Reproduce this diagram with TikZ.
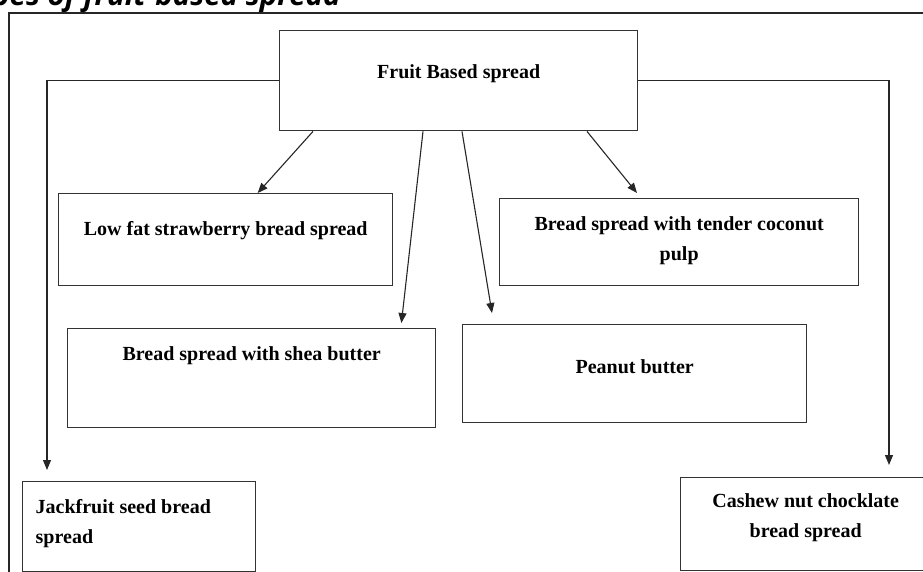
\documentclass[tikz,border=0pt]{standalone}
\usepackage{fontspec}
\setmainfont{Liberation Serif}
\newfontfamily\figcapfont{Open Sans}
\usetikzlibrary{arrows.meta}
\definecolor{boxline}{HTML}{333333}
\tikzset{spreadbox/.style={draw=boxline,line width=1.4pt,inner sep=0pt,anchor=north west,
    font=\bfseries\fontsize{20}{30}\selectfont},
  feedarrow/.style={-{Triangle[length=10pt,width=8pt]},draw=black!85,line width=1.1pt},
  framerule/.style={draw=black!85,line width=1.4pt},
  figcaption/.style={font=\figcapfont\bfseries\itshape\fontsize{29.5}{30}\selectfont,inner sep=0pt,anchor=base east}}

\begin{document}
\begin{tikzpicture}[x=1pt,y=-1pt]
\useasboundingbox (0,0) rectangle (923,572);
\clip (0,0) rectangle (923,572);
\node[figcaption] (caption) at (341,6) {Types of fruit-based spread};
\draw[framerule] (9,600) -- (9,13) -- (940,13);
\node[spreadbox,minimum width=358pt,text height=48pt,text depth=52pt] (fruit) at (279,30) {Fruit Based spread};
\node[spreadbox,minimum width=334pt,text height=42pt,text depth=50pt] (lowfat) at (58,193) {Low fat strawberry bread spread};
\node[spreadbox,minimum width=359pt,text height=62pt,text depth=25pt,align=center] (coconut) at (499,198) {Bread spread with tender coconut\\pulp};
\node[spreadbox,minimum width=368pt,text height=32pt,text depth=67pt] (shea) at (67,328) {Bread spread with shea butter};
\node[spreadbox,minimum width=344pt,text height=49pt,text depth=49pt] (peanut) at (462,324) {Peanut butter};
\node[spreadbox,inner xsep=13pt,text width=207pt,text height=32pt,text depth=58pt,align=flush left] (jack) at (22,481) {Jackfruit seed bread\\spread};
\node[spreadbox,minimum width=250pt,text height=60pt,text depth=33pt,align=center] (cashew) at (680,477) {Cashew nut chocklate\\bread spread};
\draw[feedarrow,shorten >=11pt] (fruit.west) -| ([xshift=25pt]jack.north west);
\draw[feedarrow,shorten >=12pt] (fruit.east) -| ([xshift=209pt]cashew.north west);
\draw[feedarrow] ([xshift=34pt]fruit.south west) -- ([xshift=32pt]lowfat.north);
\draw[feedarrow] ([xshift=144pt]fruit.south west) -- ([xshift=-35pt,yshift=5pt]shea.north east);
\draw[feedarrow] ([xshift=183pt]fruit.south west) -- ([xshift=30pt,yshift=11pt]peanut.north west);
\draw[feedarrow] ([xshift=308pt]fruit.south west) -- ([xshift=138pt,yshift=5pt]coconut.north west);
\end{tikzpicture}
\end{document}
